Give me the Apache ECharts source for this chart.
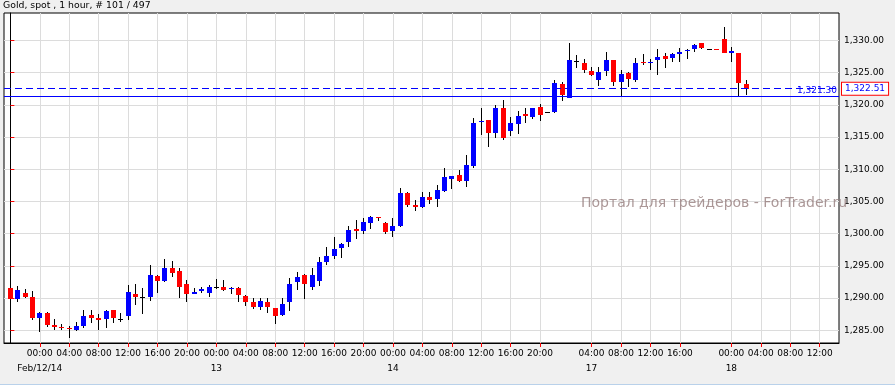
<!DOCTYPE html>
<html><head><meta charset="utf-8">
<script src="https://cdn.jsdelivr.net/npm/echarts@6/dist/echarts.min.js"></script>
<style>html,body{margin:0;padding:0;background:#f0f0f0;}#c{width:895px;height:385px;}</style>
</head><body><div id="c"></div>
<script>
const times = [
'02/11 20:00','02/11 21:00','02/11 22:00','02/11 23:00',
'02/12 00:00','02/12 01:00','02/12 02:00','02/12 03:00','02/12 04:00','02/12 05:00','02/12 06:00','02/12 07:00',
'02/12 08:00','02/12 09:00','02/12 10:00','02/12 11:00','02/12 12:00','02/12 13:00','02/12 14:00','02/12 15:00',
'02/12 16:00','02/12 17:00','02/12 18:00','02/12 19:00','02/12 20:00','02/12 21:00','02/12 22:00','02/12 23:00',
'02/13 00:00','02/13 01:00','02/13 02:00','02/13 03:00','02/13 04:00','02/13 05:00','02/13 06:00','02/13 07:00',
'02/13 08:00','02/13 09:00','02/13 10:00','02/13 11:00','02/13 12:00','02/13 13:00','02/13 14:00','02/13 15:00',
'02/13 16:00','02/13 17:00','02/13 18:00','02/13 19:00','02/13 20:00','02/13 21:00','02/13 22:00','02/13 23:00',
'02/14 00:00','02/14 01:00','02/14 02:00','02/14 03:00','02/14 04:00','02/14 05:00','02/14 06:00','02/14 07:00',
'02/14 08:00','02/14 09:00','02/14 10:00','02/14 11:00','02/14 12:00','02/14 13:00','02/14 14:00','02/14 15:00',
'02/14 16:00','02/14 17:00','02/14 18:00','02/14 19:00','02/14 20:00','02/14 21:00',
'02/16 23:00',
'02/17 00:00','02/17 01:00','02/17 02:00','02/17 03:00','02/17 04:00','02/17 05:00','02/17 06:00','02/17 07:00',
'02/17 08:00','02/17 09:00','02/17 10:00','02/17 11:00','02/17 12:00','02/17 13:00','02/17 14:00','02/17 15:00',
'02/17 16:00','02/17 17:00','02/17 18:00','02/17 19:00','02/17 21:00','02/17 22:00','02/17 23:00',
'02/18 00:00','02/18 01:00','02/18 02:00','02/18 03:00','02/18 04:00','02/18 05:00','02/18 06:00','02/18 07:00',
'02/18 08:00','02/18 09:00','02/18 10:00','02/18 11:00','02/18 12:00','02/18 13:00','02/18 14:00'
];

const opens = [
1291.48,1289.88,1290.71,1290.14,
1286.88,1287.66,1285.79,1285.48,1285.38,1285.02,1285.64,1287.35,1286.88,1286.77,1288.12,1286.77,
1287.19,1290.60,1290.09,1290.19,1293.40,1292.62,1294.64,1294.18,1292.16,1290.60,1291.07,1290.81,
1291.64,1291.69,1291.38,1291.54,1290.35,1289.36,1288.64,1289.41,1288.43,1287.40,1289.42,1292.52,
1293.56,1291.75,1292.68,1295.58,1296.51,1297.75,1298.74,1300.70,1300.44,1301.69,1302.57,1301.63,
1300.44,1301.12,1306.29,1304.43,1304.07,1305.67,1305.36,1306.55,1308.47,1309.09,1308.16,1310.45,
1317.42,1317.63,1315.66,1319.59,1315.97,1317.00,1318.56,1318.14,1319.64,1318.87,
1318.92,1323.21,1321.14,1326.79,1326.53,1325.23,1323.94,1325.29,1326.94,1323.53,1324.97,1323.84,
1326.63,1326.48,1326.94,1327.61,1327.30,1327.87,1328.34,1328.75,1329.58,1328.75,1328.75,1330.18,
1328.08,1328.08,1323.21
];
const closes = [
1289.83,1291.23,1290.14,1286.83,
1287.66,1285.84,1285.48,1285.32,1285.17,1285.64,1287.19,1286.93,1286.57,1287.97,1286.93,1286.77,
1290.92,1290.14,1290.09,1293.56,1292.67,1294.59,1293.92,1291.74,1290.66,1290.92,1291.38,1291.74,
1291.64,1291.23,1291.54,1290.50,1289.41,1288.64,1289.52,1288.64,1287.24,1289.05,1292.16,1293.28,
1292.21,1293.51,1295.58,1296.51,1297.60,1298.43,1300.55,1300.44,1301.79,1302.57,1302.36,1300.29,
1301.17,1306.29,1304.43,1304.12,1305.62,1305.21,1306.76,1308.78,1308.93,1308.16,1310.64,1317.11,
1317.57,1315.66,1319.44,1314.78,1317.11,1318.25,1318.30,1319.44,1318.40,1318.87,
1323.32,1321.51,1326.94,1326.79,1325.49,1324.61,1325.08,1326.94,1323.53,1324.87,1323.99,1326.58,
1326.48,1326.63,1327.46,1327.10,1327.87,1328.24,1328.49,1329.27,1328.91,1328.75,1328.60,1328.13,
1328.34,1323.45,1322.51
];
const lows = [
1289.67,1289.36,1289.98,1286.57,
1284.76,1285.53,1285.02,1285.02,1283.77,1284.81,1285.32,1286.15,1285.02,1285.32,1286.05,1286.31,
1286.52,1288.90,1287.50,1289.52,1290.71,1292.52,1293.30,1290.04,1289.41,1290.60,1290.81,1290.19,
1291.33,1291.07,1290.55,1289.41,1288.79,1288.22,1288.12,1287.71,1286.00,1287.15,1288.02,1291.23,
1289.89,1291.23,1291.85,1295.11,1296.04,1296.20,1297.91,1299.15,1299.93,1300.75,1302.00,1299.93,
1299.51,1300.96,1304.17,1303.50,1303.96,1304.58,1304.17,1306.40,1306.91,1307.95,1307.28,1310.12,
1315.30,1313.48,1314.78,1314.52,1315.14,1315.40,1317.26,1317.73,1317.52,1318.87,
1318.76,1320.63,1320.99,1325.75,1324.97,1324.46,1322.90,1324.46,1322.90,1321.30,1322.80,1323.58,
1326.17,1325.49,1324.61,1325.75,1326.68,1326.63,1327.20,1328.24,1328.75,1328.75,1328.49,1328.13,
1326.68,1321.30,1321.60
];
const highs = [
1291.85,1291.85,1291.38,1291.07,
1287.81,1287.81,1286.72,1285.95,1285.69,1286.26,1288.12,1288.12,1287.50,1288.12,1288.12,1287.65,
1292.00,1292.21,1291.48,1295.11,1293.61,1296.04,1295.73,1294.59,1292.78,1291.54,1291.74,1291.95,
1292.88,1292.78,1291.64,1291.64,1290.45,1289.93,1289.93,1289.93,1288.43,1289.93,1293.04,1294.03,
1293.72,1294.65,1296.41,1297.86,1299.41,1298.58,1301.17,1302.10,1302.41,1302.72,1302.57,1301.84,
1302.41,1307.07,1306.45,1305.20,1306.45,1306.45,1307.54,1310.18,1308.93,1309.86,1312.19,1317.94,
1319.44,1317.63,1319.95,1320.73,1318.04,1319.02,1319.59,1319.44,1320.11,1318.87,
1323.84,1323.58,1329.63,1327.72,1327.20,1325.91,1325.91,1328.18,1326.94,1325.39,1325.13,1327.30,
1327.87,1327.20,1328.65,1327.98,1328.08,1328.86,1328.75,1329.43,1329.58,1328.75,1328.75,1332.02,
1329.01,1328.08,1323.84
];

const tickTimes = [
'02/12 00:00','02/12 04:00','02/12 08:00','02/12 12:00','02/12 16:00','02/12 20:00',
'02/13 00:00','02/13 04:00','02/13 08:00','02/13 12:00','02/13 16:00','02/13 20:00',
'02/14 00:00','02/14 04:00','02/14 08:00','02/14 12:00','02/14 16:00','02/14 20:00',
'02/17 04:00','02/17 08:00','02/17 12:00','02/17 16:00',
'02/18 00:00','02/18 04:00','02/18 08:00','02/18 12:00'
];
const dateTickTimes = ['02/12 00:00','02/13 00:00','02/14 00:00','02/17 04:00','02/18 00:00'];
const dateTickLabels = ['Feb/12/14','13','14','17','18'];
const yTicks = [1285,1290,1295,1300,1305,1310,1315,1320,1325,1330];
const lastPrice = 1322.51;
const lowPrice = 1321.30;
const titleText = 'Gold, spot , 1 hour, # 101 / 497';
const watermark = 'Портал для трейдеров - ForTrader.ru';

const fmt = v => Number(v).toLocaleString('en-US', {minimumFractionDigits: 2, maximumFractionDigits: 2});
const tickIdx = tickTimes.map(t => times.indexOf(t));
const dateIdx = dateTickTimes.map(t => times.indexOf(t));
const candles = opens.map((o, i) => [i, o, closes[i], lows[i], highs[i]]);
const FONT = '"DejaVu Sans", Verdana, sans-serif';
const X_MIN = -0.866, X_MAX = 112.63;

const chart = echarts.init(document.getElementById('c'), null, {renderer: 'canvas'});
chart.setOption({
  animation: false,
  backgroundColor: '#f0f0f0',
  grid: {left: 4, right: 56, top: 13, bottom: 42, show: true, backgroundColor: '#ffffff',
         borderColor: '#000000', borderWidth: 1, containLabel: false, outerBoundsMode: 'none'},
  xAxis: [{
    type: 'value', position: 'bottom', min: X_MIN, max: X_MAX,
    axisLine: {show: true, onZero: false, lineStyle: {color: '#000', width: 1}},
    axisTick: {show: true, length: 4, lineStyle: {color: '#ff0000'}, customValues: tickIdx},
    splitLine: {show: true, lineStyle: {color: '#dcdcdc', width: 1}},
    axisLabel: {
      customValues: tickIdx, showMinLabel: true, showMaxLabel: true, hideOverlap: false,
      margin: 6, color: '#000', fontFamily: FONT, fontSize: 9,
      formatter: function (v) {
        const t = times[Math.round(v)];
        return t ? t.slice(6) : '';
      }
    }
  }, {
    type: 'value', position: 'bottom', offset: 0, min: X_MIN, max: X_MAX,
    axisLine: {show: false, onZero: false}, axisTick: {show: false}, splitLine: {show: false},
    axisLabel: {
      customValues: dateIdx, showMinLabel: true, showMaxLabel: true, hideOverlap: false,
      margin: 21, color: '#000', fontFamily: FONT, fontSize: 9,
      formatter: function (v) {
        const d = dateIdx.indexOf(Math.round(v));
        return d >= 0 ? dateTickLabels[d] : '';
      }
    }
  }],
  yAxis: {
    type: 'value', position: 'right', min: 1283.01, max: 1334.27, scale: true,
    axisLine: {show: true, lineStyle: {color: '#000', width: 1}},
    axisTick: {show: true, length: 4, lineStyle: {color: '#ff0000'}, customValues: yTicks},
    splitLine: {show: true, lineStyle: {color: '#dcdcdc', width: 1}},
    axisLabel: {customValues: yTicks, showMinLabel: true, showMaxLabel: true, margin: 5, color: '#000',
                fontFamily: FONT, fontSize: 9, formatter: fmt}
  },
  series: [{
    type: 'custom',
    xAxisIndex: 0,
    data: candles,
    encode: {x: 0, y: [1, 2, 3, 4]},
    clip: true,
    renderItem: function (params, api) {
      const i = api.value(0), o = api.value(1), c = api.value(2), l = api.value(3), h = api.value(4);
      const pO = api.coord([i, o]), pC = api.coord([i, c]), pL = api.coord([i, l]), pH = api.coord([i, h]);
      const col = Math.floor(pO[0]);
      const yH = Math.round(pH[1]), yL = Math.round(pL[1]);
      const yO = Math.round(pO[1]), yC = Math.round(pC[1]);
      const color = c > o ? '#0000ff' : (c < o ? '#ff0000' : '#000000');
      const top = Math.min(yO, yC), bot = Math.max(yO, yC);
      return {type: 'group', children: [
        {type: 'rect', shape: {x: col, y: yH, width: 1, height: Math.max(1, yL - yH)}, style: {fill: '#000'}},
        {type: 'rect', shape: {x: col - 2, y: top, width: 5, height: Math.max(1, bot - top)}, style: {fill: color}}
      ]};
    },
    markLine: {
      silent: true, symbol: ['none', 'none'], animation: false,
      data: [
        {yAxis: lastPrice, lineStyle: {color: '#0000ff', width: 1, type: [7, 4]},
         label: {show: true, position: 'end', distance: 3, formatter: fmt(lastPrice), color: '#0000ff',
                 fontFamily: FONT, fontSize: 9, backgroundColor: '#ffffff', borderColor: '#ff0000',
                 borderWidth: 1, padding: [2, 3, 1, 3]}},
        {yAxis: lowPrice, lineStyle: {color: '#0000ff', width: 1, type: 'solid'},
         label: {show: true, position: 'insideEndTop', distance: [2, 1], formatter: fmt(lowPrice),
                 color: '#0000ff', fontFamily: FONT, fontSize: 9}}
      ]
    }
  }],
  graphic: [
    {type: 'text', left: 3, top: 1, z: 10, style: {text: titleText, fill: '#000', font: '9.3px ' + FONT}},
    {type: 'text', left: 581, top: 196, z: 100, style: {text: watermark, fill: 'rgba(150,125,125,0.8)', font: '14px ' + FONT}},
    {type: 'rect', left: 0, top: 384, z: 10, shape: {width: 895, height: 1}, style: {fill: '#b9d1ea'}}
  ]
});
</script>
</body></html>
